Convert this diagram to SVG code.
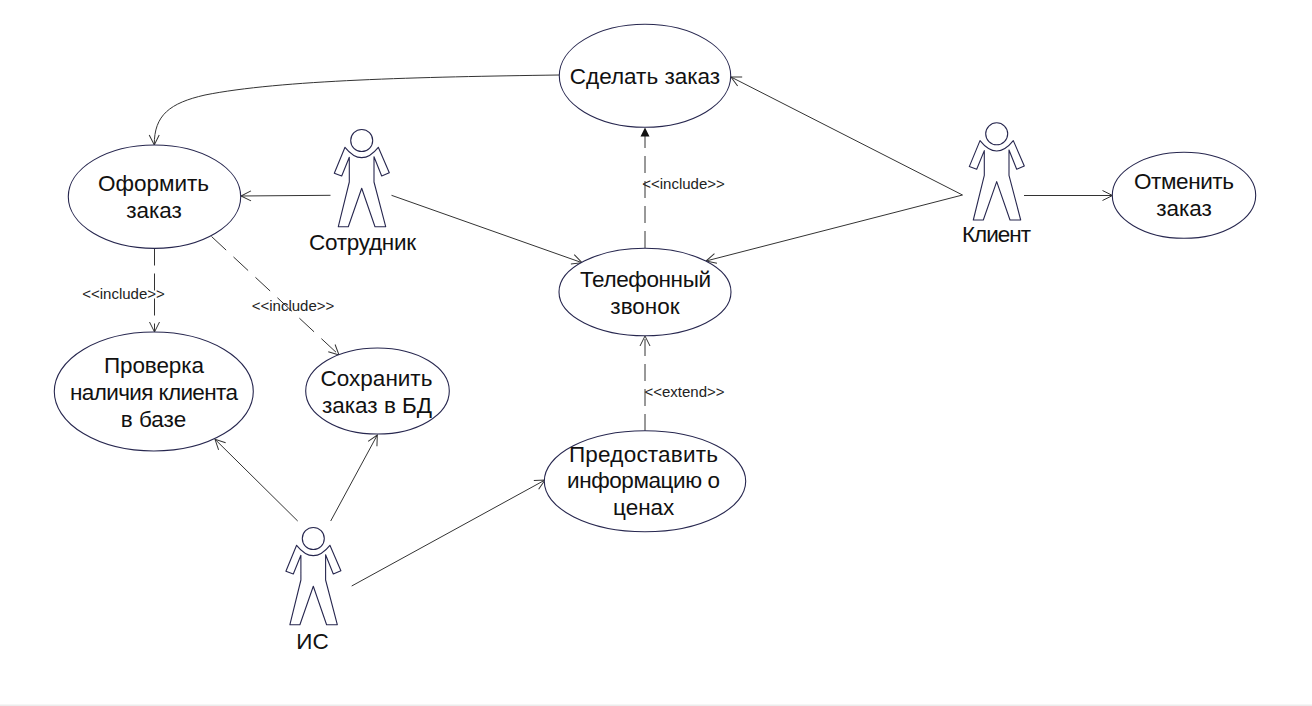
<svg xmlns="http://www.w3.org/2000/svg" width="1312" height="706" viewBox="0 0 1312 706">
<style>
.n{fill:#fff;stroke:#27274f;stroke-width:1.1}
.a{fill:#fff;stroke:#27274f;stroke-width:1.1;stroke-linejoin:round}
.t{font-family:"Liberation Sans",Arial,sans-serif;font-size:22.5px;fill:#111;text-anchor:middle}
.s{font-family:"Liberation Sans",Arial,sans-serif;font-size:15px;fill:#222;text-anchor:middle}
.c{fill:none;stroke:#333;stroke-width:1}
.d{stroke-dasharray:17 8}
.e{stroke-dasharray:20 10}
</style>
<defs>
<marker id="o" markerUnits="userSpaceOnUse" markerWidth="14" markerHeight="14" refX="11" refY="6" orient="auto"><path d="M1 1L11 6L1 11" fill="none" stroke="#333"/></marker>
<marker id="f" markerUnits="userSpaceOnUse" markerWidth="12" markerHeight="12" refX="9" refY="5" orient="auto"><path d="M0 0.500L9 5L0 9.500Z" fill="#111"/></marker>
<g id="actor">
<circle class="a" cx="361.7" cy="140.500" r="11"/>
<path class="a" d="M345 147.300Q361.700 168 378.300 147.300L389.300 172.700L381.700 176L374 156.700V182L385.700 226.700H375L361.700 188.300L348.300 226.700H338.300L349.300 182V157.300L341.700 176L334.300 173.300Z"/>
</g>
</defs>
<rect width="1312" height="706" fill="#fff"/>
<rect y="704.500" width="1312" height="1.500" fill="#ececec"/>
<g id="connectors">
<path class="c" marker-end="url(#o)" d="M559 75C420 77 280 80 205 95C170 103 154 115 154.300 145"/>
<path class="c" marker-end="url(#o)" d="M330.500 195.300L241 196"/>
<path class="c" marker-end="url(#o)" d="M391.500 195.300L582 262.700"/>
<path class="c" marker-end="url(#o)" d="M962.500 195L706 261"/>
<path class="c" marker-end="url(#o)" d="M962.500 195L731 77"/>
<path class="c" marker-end="url(#o)" d="M1024 195.500H1112.500"/>
<path class="c d" marker-end="url(#f)" d="M645 248V127.500"/>
<path class="c d" marker-end="url(#o)" d="M645 431V336"/>
<path class="c d" marker-end="url(#o)" d="M154.500 248.500V332"/>
<path class="c e" marker-end="url(#o)" d="M211.500 236.500L339 355"/>
<path class="c" marker-end="url(#o)" d="M297.700 521L215 439.300"/>
<path class="c" marker-end="url(#o)" d="M330.700 521L377.300 435"/>
<path class="c" marker-end="url(#o)" d="M351.700 586L545 480"/>
</g>
<g id="label-1"><text class="s" x="683.500" y="189.300">&lt;&lt;include&gt;&gt;</text></g>
<g id="label-2"><text class="s" x="123.500" y="298.800">&lt;&lt;include&gt;&gt;</text></g>
<g id="label-3"><text class="s" x="293" y="310.800">&lt;&lt;include&gt;&gt;</text></g>
<g id="label-4"><text class="s" x="684.500" y="396.500">&lt;&lt;extend&gt;&gt;</text></g>
<g id="order"><ellipse class="n" cx="645" cy="75.800" rx="85.700" ry="51.500"/><text class="t" x="645" y="84">Сделать заказ</text></g>
<g id="process"><ellipse class="n" cx="154.500" cy="196.700" rx="86.200" ry="51.700"/><text class="t" x="153.500" y="190.700">Оформить</text><text class="t" x="154" y="218">заказ</text></g>
<g id="call"><ellipse class="n" cx="645" cy="292" rx="86" ry="43.700"/><text class="t" x="645.500" y="286.700" textLength="131">Телефонный</text><text class="t" x="645" y="313.500">звонок</text></g>
<g id="cancel"><ellipse class="n" cx="1184" cy="195.300" rx="71.700" ry="43"/><text class="t" x="1184" y="189" textLength="100">Отменить</text><text class="t" x="1184" y="216">заказ</text></g>
<g id="check"><ellipse class="n" cx="153.800" cy="391.500" rx="99.500" ry="59.500"/><text class="t" x="154" y="373" textLength="100">Проверка</text><text class="t" x="154" y="400" textLength="168">наличия клиента</text><text class="t" x="153.500" y="427">в базе</text></g>
<g id="save"><ellipse class="n" cx="377.500" cy="391" rx="71.800" ry="43"/><text class="t" x="376.500" y="386">Сохранить</text><text class="t" x="377" y="413">заказ в БД</text></g>
<g id="info"><ellipse class="n" cx="645" cy="481.200" rx="100.700" ry="50.500"/><text class="t" x="643.500" y="461.500" textLength="149">Предоставить</text><text class="t" x="643.500" y="488" textLength="153">информацию о</text><text class="t" x="643.700" y="515">ценах</text></g>
<g id="employee"><use href="#actor"/><text class="t" x="362.500" y="250" textLength="107">Сотрудник</text></g>
<g id="client"><use href="#actor" transform="translate(635,-6.700)"/><text class="t" x="996.500" y="242" textLength="69">Клиент</text></g>
<g id="system"><use href="#actor" transform="translate(-48.400,398)"/><text class="t" x="312.500" y="648.500">ИС</text></g>
</svg>
